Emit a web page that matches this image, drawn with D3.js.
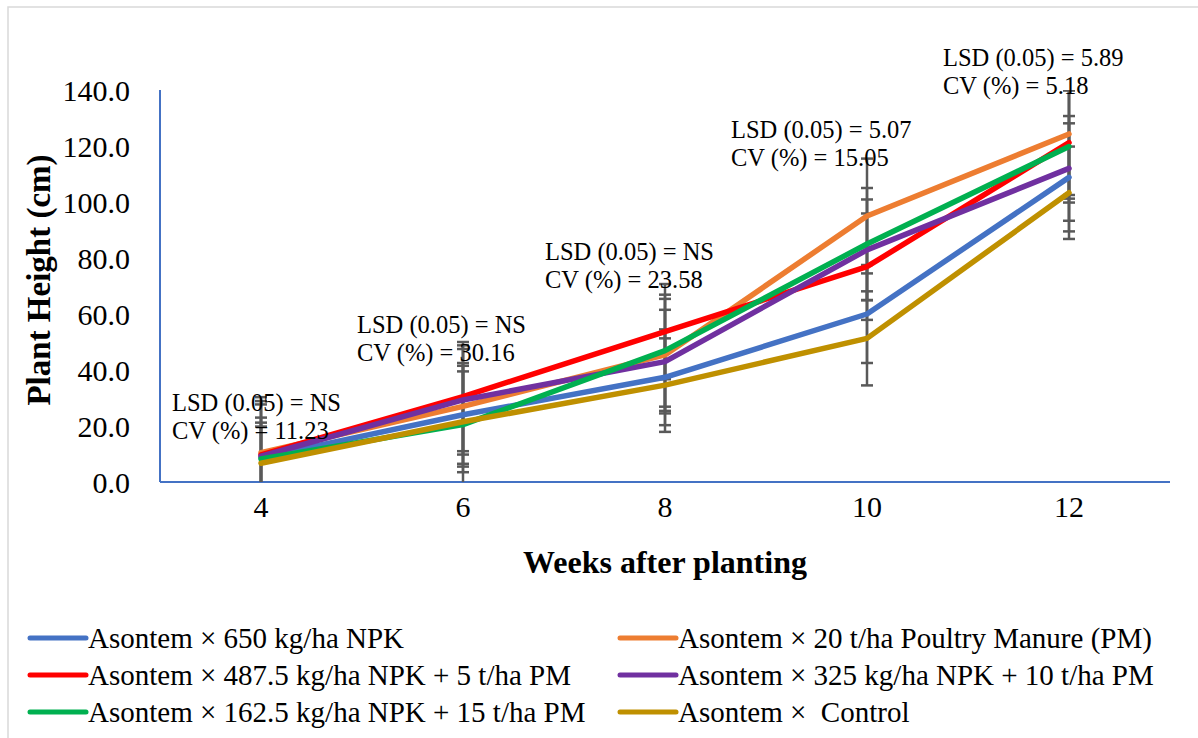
<!DOCTYPE html>
<html>
<head>
<meta charset="utf-8">
<title>Plant height</title>
<style>
  body { margin: 0; background: #fff; }
  svg text { font-family: "Liberation Serif", "Times New Roman", serif; fill: #000; }
</style>
</head>
<body>
<svg width="1198" height="738"></svg>
<script src="https://d3js.org/d3.v7.min.js"></script>
<script>
  // data
  const weeks = ["4", "6", "8", "10", "12"];
  const seriesNames = [
    "Asontem × 650 kg/ha NPK",
    "Asontem × 20 t/ha Poultry Manure (PM)",
    "Asontem × 487.5 kg/ha NPK + 5 t/ha PM",
    "Asontem × 325 kg/ha NPK + 10 t/ha PM",
    "Asontem × 162.5 kg/ha NPK + 15 t/ha PM",
    "Asontem ×  Control"
  ];
  const npk650   = [8.7, 24.0, 37.4, 60.0, 108.8];
  const pm20     = [10.5, 27.0, 45.4, 95.0, 124.3];
  const npk487   = [9.7, 30.5, 53.7, 76.9, 121.2];
  const npk325   = [9.2, 29.3, 43.0, 82.9, 112.0];
  const npk162   = [8.2, 20.5, 46.9, 85.0, 119.8];
  const control  = [6.7, 21.5, 34.6, 51.3, 103.3];

  const errNpk650  = [14.3, 18.5, 17.1, 17.5, 19.3];
  const errPm20    = [19.8, 20.5, 20.0, 20.5, 21.8];
  const errNpk487  = [19.2, 19.5, 17.0, 19.0, 20.0];
  const errNpk325  = [18.5, 19.5, 18.5, 18.0, 18.7];
  const errNpk162  = [13.0, 21.0, 20.0, 20.0, 20.0];
  const errControl = [13.1, 18.0, 16.7, 16.8, 16.5];

  const lsdLabels = ["LSD (0.05) = NS", "LSD (0.05) = NS", "LSD (0.05) = NS", "LSD (0.05) = 5.07", "LSD (0.05) = 5.89"];
  const cvLabels  = ["CV (%) = 11.23", "CV (%) = 30.16", "CV (%) = 23.58", "CV (%) = 15.05", "CV (%) = 5.18"];

  const yTicks = [0, 20, 40, 60, 80, 100, 120, 140];

  const colors = ["#4472C4", "#ED7D31", "#FF0000", "#7030A0", "#00B050", "#BF9000"];
  const values = [npk650, pm20, npk487, npk325, npk162, control];
  const errors = [errNpk650, errPm20, errNpk487, errNpk325, errNpk162, errControl];

  const series = seriesNames.map((name, i) => ({
    name: name,
    color: colors[i],
    points: weeks.map((w, j) => ({ week: w, v: values[i][j], e: errors[i][j] }))
  }));

  const svg = d3.select("svg");
  const plotLeft = 160, plotRight = 1170, plotTop = 90, plotBottom = 482;

  // chart border
  svg.append("rect")
    .attr("x", 8).attr("y", 7)
    .attr("width", 1300).attr("height", 800)
    .attr("fill", "none")
    .attr("stroke", "#d9d9d9")
    .attr("stroke-width", 1.5);

  const x = d3.scaleBand().domain(weeks).range([plotLeft, plotRight]);
  const y = d3.scaleLinear().domain([0, 140]).range([plotBottom, plotTop]);
  const cx = w => x(w) + x.bandwidth() / 2;

  svg.append("defs").append("clipPath").attr("id", "plot")
    .append("rect")
    .attr("x", plotLeft).attr("y", plotTop)
    .attr("width", plotRight - plotLeft).attr("height", plotBottom - plotTop);

  // y tick labels
  const yAxis = svg.append("g")
    .attr("transform", `translate(${plotLeft},0)`)
    .call(d3.axisLeft(y).tickValues(yTicks).tickFormat(d3.format(".1f")).tickSize(0).tickPadding(30));
  yAxis.select(".domain").remove();
  yAxis.selectAll("text")
    .style("font-size", "30px")
    .attr("font-family", null)
    .attr("dy", "0.34em");

  // x tick labels
  const xAxis = svg.append("g")
    .attr("transform", `translate(0,${plotBottom})`)
    .call(d3.axisBottom(x).tickSize(0).tickPadding(14));
  xAxis.select(".domain").remove();
  xAxis.selectAll("text")
    .style("font-size", "30px")
    .attr("font-family", null)
    .attr("dy", "0.71em");

  // axis lines
  svg.append("line")
    .attr("x1", plotLeft).attr("x2", plotLeft).attr("y1", plotTop).attr("y2", plotBottom)
    .attr("stroke", "#4472C4").attr("stroke-width", 2);
  svg.append("line")
    .attr("x1", plotLeft).attr("x2", plotRight).attr("y1", plotBottom).attr("y2", plotBottom)
    .attr("stroke", "#4472C4").attr("stroke-width", 2);

  const plot = svg.append("g").attr("clip-path", "url(#plot)");

  // error bars
  series.forEach(s => {
    const g = plot.append("g").attr("stroke", "#595959").attr("stroke-width", 2.5);
    s.points.forEach(p => {
      g.append("line")
        .attr("x1", cx(p.week)).attr("x2", cx(p.week))
        .attr("y1", y(p.v - p.e)).attr("y2", y(p.v + p.e));
      [p.v - p.e, p.v + p.e].forEach(c => {
        g.append("line")
          .attr("x1", cx(p.week) - 6).attr("x2", cx(p.week) + 6)
          .attr("y1", y(c)).attr("y2", y(c));
      });
    });
  });

  // series lines
  const line = d3.line().x(d => cx(d.week)).y(d => y(d.v));
  series.forEach(s => {
    svg.append("path")
      .datum(s.points)
      .attr("d", line)
      .attr("fill", "none")
      .attr("stroke", s.color)
      .attr("stroke-width", 5.5)
      .attr("stroke-linejoin", "round")
      .attr("stroke-linecap", "round");
  });

  // LSD / CV notes
  const noteDx = [-89, -106, -120, -136, -126];
  const noteY = [411, 333, 260, 138, 66];
  weeks.forEach((w, i) => {
    const t = svg.append("text")
      .attr("x", cx(w) + noteDx[i])
      .attr("y", noteY[i])
      .style("font-size", "24.5px");
    t.append("tspan").attr("x", cx(w) + noteDx[i]).text(lsdLabels[i]);
    t.append("tspan").attr("x", cx(w) + noteDx[i]).attr("dy", 28).text(cvLabels[i]);
  });

  // axis titles
  svg.append("text")
    .attr("transform", "translate(50,280) rotate(-90)")
    .attr("text-anchor", "middle")
    .style("font-size", "33px")
    .style("font-weight", "bold")
    .text("Plant Height (cm)");

  svg.append("text")
    .attr("x", (plotLeft + plotRight) / 2)
    .attr("y", 573)
    .attr("text-anchor", "middle")
    .style("font-size", "32px")
    .style("font-weight", "bold")
    .text("Weeks after planting");

  // legend
  const legend = svg.append("g");
  series.forEach((s, i) => {
    const col = i % 2, row = Math.floor(i / 2);
    const lx = col === 0 ? 30 : 620;
    const ly = 638 + row * 37;
    legend.append("line")
      .attr("x1", lx).attr("x2", lx + 56)
      .attr("y1", ly).attr("y2", ly)
      .attr("stroke", s.color)
      .attr("stroke-width", 5)
      .attr("stroke-linecap", "round");
    legend.append("text")
      .attr("x", lx + 58)
      .attr("y", ly + 10)
      .style("font-size", "29px")
      .style("white-space", "pre")
      .text(s.name);
  });
</script>
</body>
</html>
